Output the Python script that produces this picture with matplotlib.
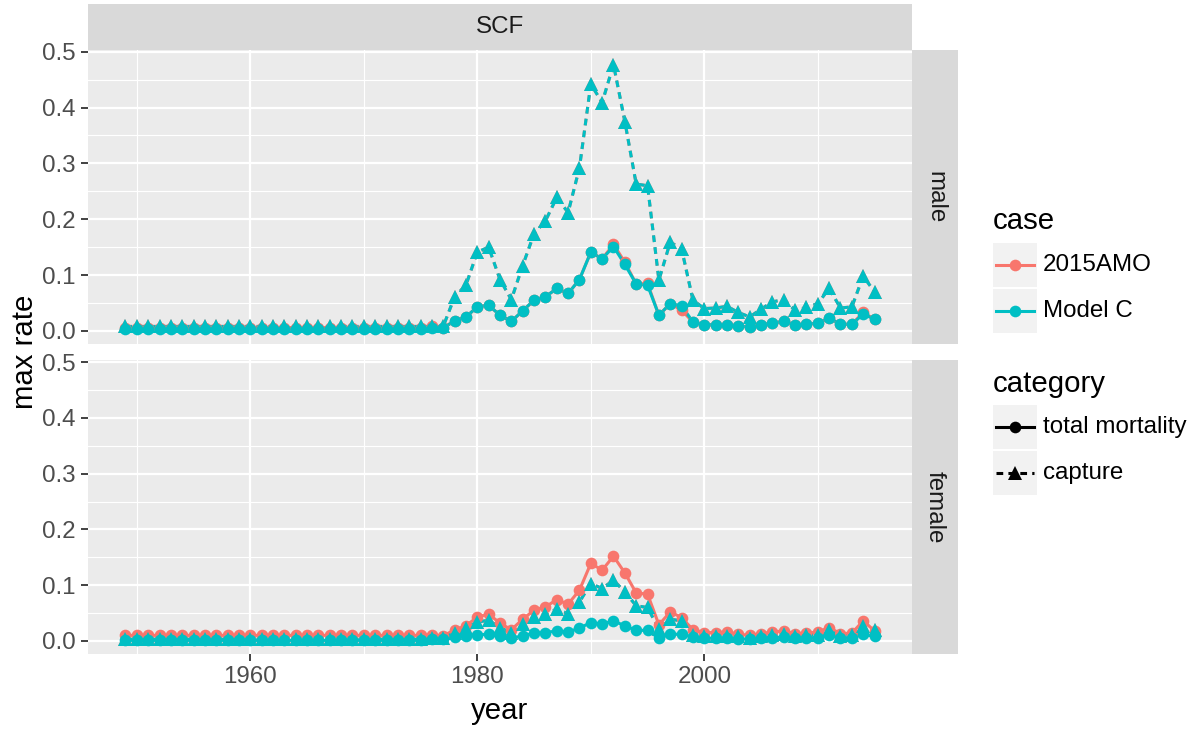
import matplotlib
matplotlib.use("Agg")
import matplotlib.pyplot as plt
from matplotlib.patches import Rectangle
from matplotlib.lines import Line2D

plt.rcParams['font.family'] = ['Liberation Sans', 'DejaVu Sans']

years = list(range(1949, 2016))

# male panel
male_total_amo = [0.006, 0.006, 0.006, 0.006, 0.006, 0.006, 0.006, 0.006, 0.006,
                  0.006, 0.006, 0.006, 0.006, 0.006, 0.006, 0.006, 0.006, 0.006,
                  0.006, 0.006, 0.006, 0.006, 0.006, 0.006, 0.006, 0.006, 0.006,
                  0.008, 0.006, 0.018, 0.025, 0.043, 0.046, 0.028, 0.017, 0.036, 0.055,
                  0.061, 0.076, 0.067, 0.092, 0.141, 0.129, 0.155, 0.123, 0.084, 0.085,
                  0.028, 0.049, 0.037, 0.016, 0.011, 0.011, 0.011, 0.009, 0.007, 0.011,
                  0.014, 0.017, 0.011, 0.012, 0.014, 0.023, 0.012, 0.012, 0.033, 0.021]
male_total_modelc = [0.004, 0.004, 0.004, 0.004, 0.004, 0.004, 0.004, 0.004, 0.004,
                     0.004, 0.004, 0.004, 0.004, 0.004, 0.004, 0.004, 0.004, 0.004,
                     0.004, 0.004, 0.004, 0.004, 0.004, 0.004, 0.004, 0.004, 0.004,
                     0.006, 0.005, 0.018, 0.025, 0.043, 0.046, 0.028, 0.017, 0.036, 0.055,
                     0.061, 0.076, 0.067, 0.092, 0.141, 0.129, 0.151, 0.119, 0.084, 0.082,
                     0.028, 0.049, 0.045, 0.016, 0.011, 0.011, 0.011, 0.009, 0.007, 0.011,
                     0.014, 0.017, 0.011, 0.012, 0.014, 0.023, 0.012, 0.012, 0.030, 0.021]
male_capture = [0.008, 0.008, 0.008, 0.008, 0.008, 0.008, 0.008, 0.008, 0.008,
                0.008, 0.008, 0.008, 0.008, 0.008, 0.008, 0.008, 0.008, 0.008,
                0.008, 0.008, 0.008, 0.008, 0.008, 0.008, 0.008, 0.008, 0.008,
                0.008, 0.008, 0.061, 0.082, 0.141, 0.150, 0.092, 0.056, 0.117, 0.174,
                0.197, 0.239, 0.212, 0.292, 0.442, 0.409, 0.477, 0.375, 0.263, 0.260,
                0.091, 0.159, 0.147, 0.055, 0.040, 0.041, 0.044, 0.033, 0.025, 0.039,
                0.052, 0.056, 0.037, 0.042, 0.049, 0.076, 0.041, 0.043, 0.098, 0.070]

# female panel
female_total_amo = [0.010, 0.010, 0.010, 0.010, 0.010, 0.010, 0.010, 0.010, 0.010,
                    0.010, 0.010, 0.010, 0.010, 0.010, 0.010, 0.010, 0.010, 0.010,
                    0.010, 0.010, 0.010, 0.010, 0.010, 0.010, 0.010, 0.010, 0.010,
                    0.011, 0.009, 0.020, 0.027, 0.043, 0.048, 0.032, 0.020, 0.039, 0.055,
                    0.061, 0.074, 0.066, 0.091, 0.139, 0.127, 0.152, 0.122, 0.086, 0.084,
                    0.029, 0.052, 0.042, 0.020, 0.015, 0.015, 0.016, 0.012, 0.010, 0.013,
                    0.016, 0.018, 0.013, 0.014, 0.016, 0.024, 0.013, 0.014, 0.036, 0.018]
female_total_modelc = [0.001, 0.001, 0.001, 0.001, 0.001, 0.001, 0.001, 0.001, 0.001,
                       0.001, 0.001, 0.001, 0.001, 0.001, 0.001, 0.001, 0.001, 0.001,
                       0.001, 0.001, 0.001, 0.001, 0.001, 0.001, 0.001, 0.001, 0.001,
                       0.004, 0.004, 0.007, 0.009, 0.011, 0.012, 0.008, 0.005, 0.009, 0.014,
                       0.015, 0.018, 0.016, 0.023, 0.033, 0.030, 0.036, 0.027, 0.019, 0.019,
                       0.005, 0.012, 0.012, 0.007, 0.005, 0.005, 0.005, 0.004, 0.003, 0.005,
                       0.006, 0.007, 0.005, 0.005, 0.006, 0.010, 0.005, 0.005, 0.012, 0.008]
female_capture = [0.003, 0.003, 0.003, 0.003, 0.003, 0.003, 0.003, 0.003, 0.003,
                  0.003, 0.003, 0.003, 0.003, 0.003, 0.003, 0.003, 0.003, 0.003,
                  0.003, 0.003, 0.003, 0.003, 0.003, 0.003, 0.003, 0.003, 0.003,
                  0.005, 0.006, 0.014, 0.023, 0.034, 0.037, 0.024, 0.014, 0.030, 0.043,
                  0.048, 0.057, 0.049, 0.070, 0.103, 0.094, 0.109, 0.088, 0.063, 0.060,
                  0.021, 0.039, 0.036, 0.010, 0.009, 0.009, 0.009, 0.008, 0.006, 0.009,
                  0.011, 0.013, 0.009, 0.010, 0.011, 0.019, 0.009, 0.010, 0.027, 0.019]

cases = ["2015AMO", "Model C"]
case_colors = {"2015AMO": "#F8766D", "Model C": "#00BFC4"}
categories = ["total mortality", "capture"]
cat_style = {"total mortality": ("-", "o", 8.4), "capture": ((0, (2.2, 1.7)), "^", 10.0)}
sexes = ["male", "female"]

panel_data = {
    "male": {"2015AMO": {"total mortality": male_total_amo, "capture": male_capture},
             "Model C": {"total mortality": male_total_modelc, "capture": male_capture}},
    "female": {"2015AMO": {"total mortality": female_total_amo, "capture": female_capture},
               "Model C": {"total mortality": female_total_modelc, "capture": female_capture}},
}

W, H = 1197, 729
fig = plt.figure(figsize=(W / 100, H / 100), dpi=100)


def box(x0, y0, x1, y1):
    # pixel box (top-left origin) -> figure fraction
    return [x0 / W, 1 - y1 / H, (x1 - x0) / W, (y1 - y0) / H]


panel_boxes = {"male": (88, 49.5, 912, 344.3), "female": (88, 360, 912, 654.3)}
grey_text = "#4D4D4D"
small = 17.4
big = 21.2

for sex in sexes:
    x0, y0, x1, y1 = panel_boxes[sex]
    ax = fig.add_axes(box(x0, y0, x1, y1))
    ax.set_facecolor("#EBEBEB")
    for s in ax.spines.values():
        s.set_visible(False)
    ax.set_xlim(1945.7, 2018.3)
    ax.set_ylim(-0.024, 0.504)
    ax.set_xticks([1960, 1980, 2000])
    ax.set_xticks([1950, 1970, 1990, 2010], minor=True)
    ax.set_yticks([0.0, 0.1, 0.2, 0.3, 0.4, 0.5])
    ax.set_yticks([0.05, 0.15, 0.25, 0.35, 0.45], minor=True)
    ax.grid(which="major", color="white", linewidth=1.6)
    ax.grid(which="minor", color="white", linewidth=0.8)
    ax.set_axisbelow(True)
    ax.tick_params(which="major", length=5.2, width=1.3, color="#333333",
                   labelsize=small, labelcolor=grey_text, pad=3.5)
    ax.tick_params(which="minor", length=0)
    ax.set_yticklabels(["0.0", "0.1", "0.2", "0.3", "0.4", "0.5"])
    if sex == "male":
        ax.tick_params(axis="x", which="major", length=0, labelbottom=False)
    # lines first, then points (ggplot layer order)
    for case in cases:
        for cat in categories:
            ls, mk, ms = cat_style[cat]
            ax.plot(years, panel_data[sex][case][cat], color=case_colors[case],
                    linestyle=ls, linewidth=2.2, zorder=2)
    for case in cases:
        for cat in categories:
            ls, mk, ms = cat_style[cat]
            ax.plot(years, panel_data[sex][case][cat], color=case_colors[case],
                    linestyle="none", marker=mk, markersize=ms, markeredgewidth=0, zorder=3)

    # right strip
    sax = fig.add_axes(box(912, y0, 958, y1))
    sax.set_facecolor("#D9D9D9")
    sax.set_xticks([])
    sax.set_yticks([])
    for s in sax.spines.values():
        s.set_visible(False)
    sax.text(0.5, 0.5, sex, rotation=270, ha="center", va="center",
             fontsize=small, color="#1A1A1A", transform=sax.transAxes)

# top strip
tax = fig.add_axes(box(88, 4, 912, 49.5))
tax.set_facecolor("#D9D9D9")
tax.set_xticks([])
tax.set_yticks([])
for s in tax.spines.values():
    s.set_visible(False)
tax.text(0.5, 0.5, "SCF", ha="center", va="center", fontsize=small, color="#1A1A1A",
         transform=tax.transAxes)

fig.text(25 / W, 1 - 352 / H, "max rate", rotation=90, ha="center", va="center", fontsize=big)
fig.text(500 / W, 1 - 711 / H, "year", ha="center", va="center", fontsize=big)

# legends, drawn on an overlay in pixel coords
lax = fig.add_axes([0, 0, 1, 1])
lax.set_xlim(0, W)
lax.set_ylim(H, 0)
lax.axis("off")
lax.set_zorder(5)

lax.text(993, 229, "case", fontsize=big, va="baseline", ha="left")
for i, case in enumerate(cases):
    ky = 243 + i * 46
    lax.add_patch(Rectangle((993, ky), 43.5, 43.5, facecolor="#F2F2F2", edgecolor="none"))
    cy = ky + 21.75
    lax.add_line(Line2D([996, 1034], [cy, cy], color=case_colors[case], linewidth=2.2))
    lax.plot([1015], [cy], marker="o", markersize=8.4, color=case_colors[case],
             markeredgewidth=0, linestyle="none")
    lax.text(1043, cy, case, fontsize=small, va="center", ha="left")

lax.text(993, 392, "category", fontsize=big, va="baseline", ha="left")
for i, cat in enumerate(categories):
    ky = 405 + i * 46
    lax.add_patch(Rectangle((993, ky), 43.5, 43.5, facecolor="#F2F2F2", edgecolor="none"))
    cy = ky + 21.75
    ls, mk, ms = cat_style[cat]
    lax.add_line(Line2D([996, 1034], [cy, cy], color="black", linewidth=2.2, linestyle=ls))
    lax.plot([1015], [cy], marker=mk, markersize=ms, color="black",
             markeredgewidth=0, linestyle="none")
    lax.text(1043, cy, cat, fontsize=small, va="center", ha="left")

fig.savefig("out.png", dpi=100)
